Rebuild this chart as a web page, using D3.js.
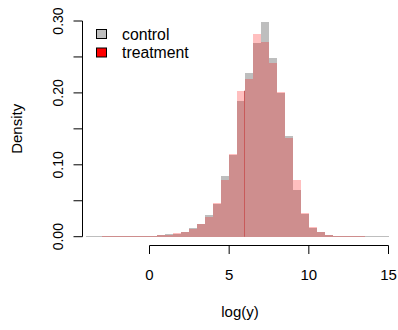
<!DOCTYPE html>
<html>
<head>
<meta charset="utf-8">
<script src="https://cdn.jsdelivr.net/npm/d3@7"></script>
<style>
  body { margin: 0; background: #fff; }
  text { font-family: "Liberation Sans", Arial, sans-serif; fill: #000; }
</style>
</head>
<body>
<div id="chart"></div>
<script>
// bin edges (width 0.5) and densities
var breaks = [-4, -3.5, -3, -2.5, -2, -1.5, -1, -0.5, 0, 0.5, 1, 1.5, 2, 2.5, 3, 3.5, 4, 4.5, 5, 5.5,
              6, 6.5, 7, 7.5, 8, 8.5, 9, 9.5, 10, 10.5, 11, 11.5, 12, 12.5, 13, 13.5, 14, 14.5, 15];

var control = [0.0006, 0.0006, 0.0006, 0.0006, 0.0006, 0.0006, 0.0006, 0.0006, 0.0008, 0.0020,
               0.0042, 0.0040, 0.0060, 0.0121, 0.0177, 0.0302, 0.0459, 0.0848, 0.1140, 0.1890,
               0.2280, 0.2700, 0.2980, 0.2485, 0.2000, 0.1400, 0.0650, 0.0320, 0.0121, 0.0063,
               0.0023, 0.0009, 0.0006, 0.0006, 0.0006, 0.0006, 0.0006, 0.0006];

var treatment = [0, 0, 0.0006, 0.0006, 0.0006, 0.0006, 0.0006, 0.0006, 0.0008, 0.0023,
                 0.0023, 0.0052, 0.0068, 0.0103, 0.0175, 0.0274, 0.0469, 0.0789, 0.1150, 0.2030,
                 0.2190, 0.2820, 0.2710, 0.2416, 0.2010, 0.1370, 0.0789, 0.0334, 0.0135, 0.0065,
                 0.0024, 0.0009, 0.0006, 0.0006, 0.0006, 0, 0, 0];

var xTicks = [0, 5, 10, 15];
var yTicks = [0, 0.05, 0.10, 0.15, 0.20, 0.25, 0.30];
var cutoff = 6;

var legendItems = [
    {label: "control", fill: "#BEBEBE"},
    {label: "treatment", fill: "#FF0000"}
];

var width = 398, height = 330;

var svg = d3.select("#chart")
    .append("svg")
        .attr("width", width)
        .attr("height", height);

var x_scale = d3.scaleLinear()
    .domain([0, 15])
    .range([149.5, 388.5]);

var y_scale = d3.scaleLinear()
    .domain([0, 0.30])
    .range([236.7, 21]);

function bins(values) {
    return values.map(function(v, i) { return {x0: breaks[i], x1: breaks[i + 1], d: v}; });
}

// control first, treatment translucent on top
svg.append("g").selectAll("rect")
    .data(bins(control))
    .enter()
    .append("rect")
    .attr("x", function(d) { return x_scale(d.x0); })
    .attr("width", function(d) { return x_scale(d.x1) - x_scale(d.x0); })
    .attr("y", function(d) { return y_scale(d.d); })
    .attr("height", function(d) { return y_scale(0) - y_scale(d.d); })
    .attr("fill", "#BEBEBE")
    .attr("shape-rendering", "crispEdges");

svg.append("g").selectAll("rect")
    .data(bins(treatment))
    .enter()
    .append("rect")
    .attr("x", function(d) { return x_scale(d.x0); })
    .attr("width", function(d) { return x_scale(d.x1) - x_scale(d.x0); })
    .attr("y", function(d) { return y_scale(d.d); })
    .attr("height", function(d) { return y_scale(0) - y_scale(d.d); })
    .attr("fill", "rgba(255,0,0,0.25)")
    .attr("shape-rendering", "crispEdges");

// darker edge at the cutoff, up to the lower of the two treatment bars beside it
var ci = breaks.indexOf(cutoff);
var cutTop = Math.min(treatment[ci - 1], treatment[ci]);
svg.append("line")
    .attr("x1", Math.round(x_scale(cutoff)) - 0.5)
    .attr("x2", Math.round(x_scale(cutoff)) - 0.5)
    .attr("y1", y_scale(0))
    .attr("y2", y_scale(cutTop))
    .attr("stroke", "#c85a5a")
    .attr("stroke-width", 1);

// axes, R style
var xAxis = svg.append("g")
    .attr("transform", "translate(0,245.5)");
xAxis.append("line")
    .attr("x1", x_scale(0)).attr("x2", x_scale(15))
    .attr("stroke", "#000");
xAxis.selectAll(".tick")
    .data(xTicks)
    .enter()
    .append("line")
    .attr("x1", function(d) { return x_scale(d); })
    .attr("x2", function(d) { return x_scale(d); })
    .attr("y1", 0).attr("y2", 8.5)
    .attr("stroke", "#000");
xAxis.selectAll("text")
    .data(xTicks)
    .enter()
    .append("text")
    .attr("x", function(d) { return x_scale(d); })
    .attr("y", 34.5)
    .attr("text-anchor", "middle")
    .style("font-size", "15px")
    .text(function(d) { return d; });

var yAxis = svg.append("g")
    .attr("transform", "translate(82.5,0)");
yAxis.append("line")
    .attr("y1", y_scale(0)).attr("y2", y_scale(0.30))
    .attr("stroke", "#000");
yAxis.selectAll(".tick")
    .data(yTicks)
    .enter()
    .append("line")
    .attr("y1", function(d) { return y_scale(d); })
    .attr("y2", function(d) { return y_scale(d); })
    .attr("x1", 0).attr("x2", -9)
    .attr("stroke", "#000");
yAxis.selectAll("text")
    .data(yTicks.filter(function(d, i) { return i % 2 == 0; }))
    .enter()
    .append("text")
    .attr("transform", function(d) { return "translate(-20," + y_scale(d) + ")rotate(-90)"; })
    .attr("text-anchor", "middle")
    .style("font-size", "14px")
    .text(function(d) { return d3.format(".2f")(d); });

svg.append("text")
    .attr("transform", "translate(240,317)")
    .attr("text-anchor", "middle")
    .style("font-size", "15px")
    .text("log(y)");

svg.append("text")
    .attr("transform", "translate(22," + (y_scale(0.15)) + ")rotate(-90)")
    .attr("text-anchor", "middle")
    .style("font-size", "15px")
    .text("Density");

// legend
var legend = svg.append("g").selectAll("g")
    .data(legendItems)
    .enter()
    .append("g")
    .attr("transform", function(d, i) { return "translate(96," + (34 + i * 18.5) + ")"; });
legend.append("rect")
    .attr("x", 0.5).attr("y", -4.5)
    .attr("width", 10).attr("height", 9)
    .attr("fill", function(d) { return d.fill; })
    .attr("stroke", "#000");
legend.append("text")
    .attr("x", 26)
    .attr("y", 5.5)
    .style("font-size", "15.8px")
    .text(function(d) { return d.label; });
</script>
</body>
</html>
